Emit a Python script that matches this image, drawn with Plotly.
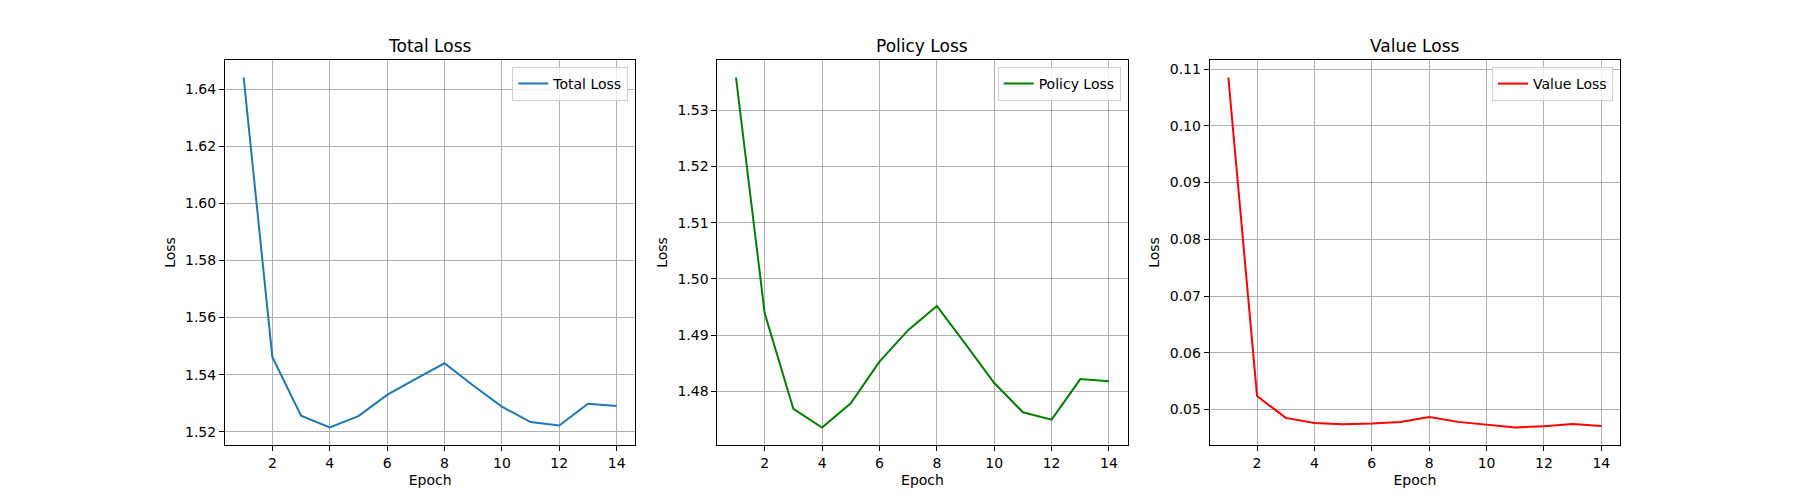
import plotly.graph_objects as go

# Training history
epochs = list(range(1, 15))
total_loss = [1.6441, 1.5462, 1.5256, 1.5215, 1.5255, 1.5329, 1.5385,
              1.5440, 1.5362, 1.5288, 1.5234, 1.5222, 1.5298, 1.5290]
policy_loss = [1.5358, 1.4939, 1.4769, 1.4736, 1.4779, 1.4853, 1.4909,
               1.4952, 1.4884, 1.4815, 1.4763, 1.4750, 1.4822, 1.4818]
value_loss = [0.10852, 0.05239, 0.04852, 0.04764, 0.04741, 0.04753, 0.04782,
              0.04870, 0.04782, 0.04729, 0.04683, 0.04706, 0.04746, 0.04711]

panels = [
    ("Total Loss", total_loss, "#1f77b4", 0.02),
    ("Policy Loss", policy_loss, "#008000", 0.01),
    ("Value Loss", value_loss, "#ff0000", 0.01),
]

W, H = 1800, 500
FONT = "DejaVu Sans"

# matplotlib default subplot geometry (left .125, right .9, wspace .2)
left, right, bottom, top = 0.125, 0.9, 0.11, 0.88
pw = (right - left) / (3 + 2 * 0.2)

fig = go.Figure()
annotations = []
layout = {}

for i, (name, vals, color, dt) in enumerate(panels):
    n = "" if i == 0 else str(i + 1)
    x0 = left + i * pw * 1.2
    x1 = x0 + pw

    fig.add_trace(go.Scatter(
        x=epochs, y=vals, mode="lines", name=name, showlegend=True,
        line=dict(color=color, width=2),
        xaxis="x" + n, yaxis="y" + n, legend="legend" + n,
    ))

    lo, hi = min(vals), max(vals)
    pad = (hi - lo) * 0.05
    xpad = (max(epochs) - min(epochs)) * 0.05

    axis_common = dict(
        showline=True, linecolor="black", linewidth=1, mirror=True,
        showgrid=True, gridcolor="#b0b0b0", gridwidth=1,
        ticks="outside", ticklen=5, tickcolor="black", tickwidth=1,
        tickfont=dict(family=FONT, size=14, color="black"),
        zeroline=False,
    )
    layout["xaxis" + n] = dict(
        axis_common, domain=[x0, x1], anchor="y" + n,
        range=[min(epochs) - xpad, max(epochs) + xpad],
        tickmode="array", tickvals=list(range(2, 15, 2)),
        title=dict(text="Epoch", font=dict(family=FONT, size=14, color="black"), standoff=5),
    )
    layout["yaxis" + n] = dict(
        axis_common, domain=[bottom, top], anchor="x" + n,
        range=[lo - pad, hi + pad], dtick=dt, tickformat=".2f",
        title=dict(text="Loss", font=dict(family=FONT, size=14, color="black"), standoff=6),
    )
    layout["legend" + n] = dict(
        x=x1 - 7 / W, y=top - 7 / H, xanchor="right", yanchor="top",
        bgcolor="rgba(255,255,255,0.8)", bordercolor="#d0d0d0", borderwidth=1,
        font=dict(family=FONT, size=14, color="black"),
    )
    annotations.append(dict(
        text=name, x=(x0 + x1) / 2, y=top + 2 / H, xref="paper", yref="paper",
        xanchor="center", yanchor="bottom", showarrow=False,
        font=dict(family=FONT, size=17, color="black"),
    ))

fig.update_layout(
    width=W, height=H,
    margin=dict(l=0, r=0, t=0, b=0),
    paper_bgcolor="white", plot_bgcolor="white",
    font=dict(family=FONT, color="black"),
    showlegend=True,
    annotations=annotations,
    **layout,
)

# drop the browser's default 8px body margin so the figure fills the window
fig.write_html("out.html", config={"displayModeBar": False},
               post_script="document.body.style.margin='0';")
